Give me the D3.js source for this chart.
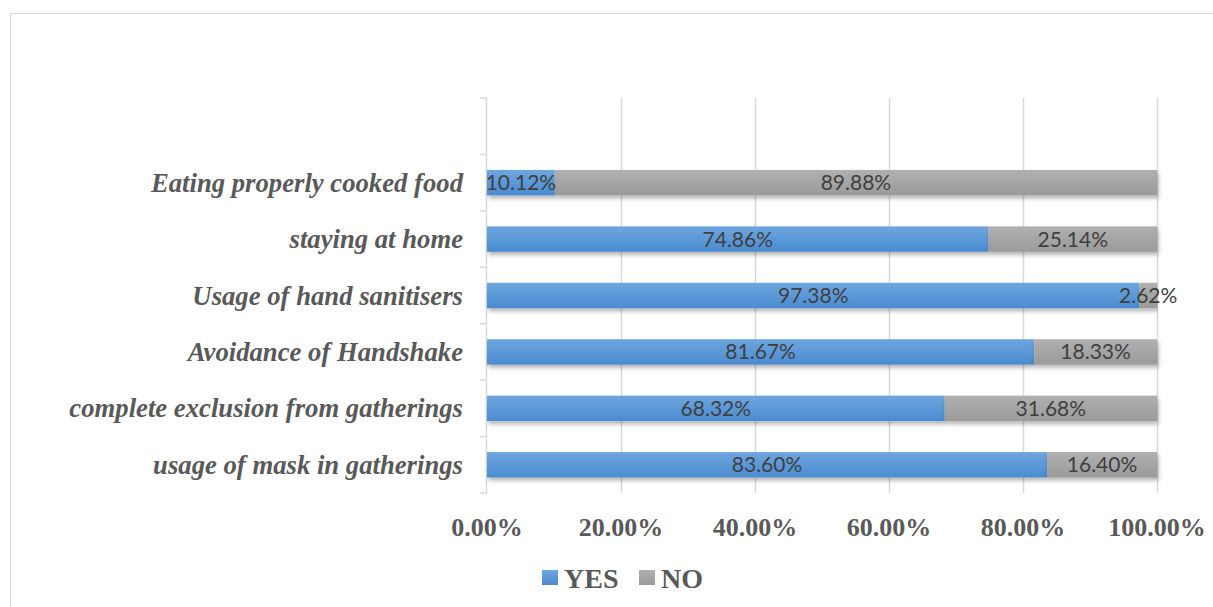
<!DOCTYPE html>
<html>
<head>
<meta charset="utf-8">
<script src="https://cdn.jsdelivr.net/npm/d3@7"></script>
<style>
  body { margin: 0; background: #fff; }
</style>
</head>
<body>
<div id="wrapper"></div>
<script>
// categories listed top to bottom, first row is an empty slot like in the original
const categories = [
    "",
    "Eating properly cooked food",
    "staying at home",
    "Usage of hand sanitisers",
    "Avoidance of Handshake",
    "complete exclusion from gatherings",
    "usage of mask in gatherings"
]
const yesValues = [null, 10.12, 74.86, 97.38, 81.67, 68.32, 83.60]
const noValues = [null, 89.88, 25.14, 2.62, 18.33, 31.68, 16.40]
const xTicks = [0, 20, 40, 60, 80, 100]
const seriesNames = ["YES", "NO"]

const width = 1213
const height = 607
let dimensions = {
    width,
    height,
    margin: { top: 98, right: 56, bottom: 114, left: 487 }
}
dimensions.boundedWidth = dimensions.width - dimensions.margin.left - dimensions.margin.right
dimensions.boundedHeight = dimensions.height - dimensions.margin.top - dimensions.margin.bottom

const svg = d3.select("#wrapper")
    .append("svg")
        .attr("width", width)
        .attr("height", height)

const defs = svg.append("defs")
const gradBlue = defs.append("linearGradient").attr("id", "gBlue")
    .attr("x1", 0).attr("y1", 0).attr("x2", 0).attr("y2", 1)
gradBlue.append("stop").attr("offset", "0%").attr("stop-color", "#6ea6de")
gradBlue.append("stop").attr("offset", "100%").attr("stop-color", "#4a8bd0")
const gradGray = defs.append("linearGradient").attr("id", "gGray")
    .attr("x1", 0).attr("y1", 0).attr("x2", 0).attr("y2", 1)
gradGray.append("stop").attr("offset", "0%").attr("stop-color", "#b0b0b0")
gradGray.append("stop").attr("offset", "100%").attr("stop-color", "#9a9a9a")
const shadow = defs.append("filter").attr("id", "shadow")
    .attr("x", "-5%").attr("y", "-30%").attr("width", "110%").attr("height", "190%")
shadow.append("feDropShadow")
    .attr("dx", 1.5).attr("dy", 3).attr("stdDeviation", 2)
    .attr("flood-color", "#000").attr("flood-opacity", 0.3)

// outer chart border
svg.append("rect")
    .attr("x", 10.5).attr("y", 13.5)
    .attr("width", 1220).attr("height", 620)
    .attr("fill", "none")
    .attr("stroke", "#d9d9d9")

const bounds = svg.append("g")
    .attr("transform", `translate(${dimensions.margin.left}, ${dimensions.margin.top})`)

const xScale = d3.scaleLinear()
    .domain([0, 100])
    .range([0, dimensions.boundedWidth])

const yScale = d3.scaleBand()
    .domain(categories.map((d, i) => i))
    .range([0, dimensions.boundedHeight])
    .paddingInner(0.55)
    .paddingOuter(0.275)

// gridlines
bounds.append("g")
    .selectAll("line")
    .data(xTicks.slice(1))
    .join("line")
        .attr("x1", d => Math.round(xScale(d)) + 0.5)
        .attr("x2", d => Math.round(xScale(d)) + 0.5)
        .attr("y1", 0)
        .attr("y2", dimensions.boundedHeight)
        .attr("stroke", "#d9d9d9")
        .attr("stroke-width", 1.5)

// y axis line with ticks between categories
const step = yScale.step()
bounds.append("line")
    .attr("x1", -0.5).attr("x2", -0.5)
    .attr("y1", 0).attr("y2", dimensions.boundedHeight)
    .attr("stroke", "#d9d9d9").attr("stroke-width", 1.5)
bounds.append("g")
    .selectAll("line")
    .data(d3.range(categories.length + 1))
    .join("line")
        .attr("x1", -7).attr("x2", -0.5)
        .attr("y1", d => d * step)
        .attr("y2", d => d * step)
        .attr("stroke", "#d9d9d9").attr("stroke-width", 1.5)

const rows = categories.map((c, i) => ({ i, c, yes: yesValues[i], no: noValues[i] }))
    .filter(d => d.yes !== null)

const barGroups = bounds.append("g")
    .selectAll("g")
    .data(rows)
    .join("g")

barGroups.append("rect")
    .attr("x", xScale(0))
    .attr("y", d => yScale(d.i))
    .attr("width", d => xScale(d.yes) - xScale(0))
    .attr("height", yScale.bandwidth())
    .attr("fill", "url(#gBlue)")
    .attr("filter", "url(#shadow)")

barGroups.append("rect")
    .attr("x", d => xScale(d.yes))
    .attr("y", d => yScale(d.i))
    .attr("width", d => xScale(d.yes + d.no) - xScale(d.yes))
    .attr("height", yScale.bandwidth())
    .attr("fill", "url(#gGray)")
    .attr("filter", "url(#shadow)")

const labelFont = "Lato, 'Noto Sans', sans-serif"
barGroups.append("text")
    .attr("x", d => xScale(d.yes / 2))
    .attr("y", d => yScale(d.i) + yScale.bandwidth() / 2)
    .attr("dy", "0.36em")
    .attr("text-anchor", "middle")
    .style("font-family", labelFont)
    .style("font-size", "21px")
    .attr("fill", "#404040")
    .text(d => d.yes.toFixed(2) + "%")

barGroups.append("text")
    .attr("x", d => xScale(d.yes + d.no / 2))
    .attr("y", d => yScale(d.i) + yScale.bandwidth() / 2)
    .attr("dy", "0.36em")
    .attr("text-anchor", "middle")
    .style("font-family", labelFont)
    .style("font-size", "21px")
    .attr("fill", "#404040")
    .text(d => d.no.toFixed(2) + "%")

// category labels
bounds.append("g")
    .selectAll("text")
    .data(rows)
    .join("text")
        .attr("x", -24)
        .attr("y", d => yScale(d.i) + yScale.bandwidth() / 2)
        .attr("dy", "0.34em")
        .attr("text-anchor", "end")
        .style("font-family", "'Liberation Serif', 'Times New Roman', serif")
        .style("font-size", "26.7px")
        .style("font-weight", "bold")
        .style("font-style", "italic")
        .attr("fill", "#595959")
        .text(d => d.c)

// x axis tick labels
bounds.append("g")
    .selectAll("text")
    .data(xTicks)
    .join("text")
        .attr("x", d => xScale(d))
        .attr("y", dimensions.boundedHeight + 43)
        .attr("text-anchor", "middle")
        .style("font-family", "'Liberation Serif', 'Times New Roman', serif")
        .style("font-size", "26px")
        .style("font-weight", "bold")
        .attr("fill", "#595959")
        .text(d => d.toFixed(2) + "%")

// legend
const legendColors = ["url(#gBlue)", "url(#gGray)"]
const legend = svg.append("g")
    .attr("transform", "translate(542, 578)")
const legendX = [0, 97]
const items = legend.selectAll("g")
    .data(seriesNames)
    .join("g")
        .attr("transform", (d, i) => `translate(${legendX[i]}, 0)`)
items.append("rect")
    .attr("x", 0).attr("y", -8)
    .attr("width", 16).attr("height", 15)
    .attr("fill", (d, i) => legendColors[i])
items.append("text")
    .attr("x", 22)
    .attr("y", 0)
    .attr("dy", "0.36em")
    .style("font-family", "'Liberation Serif', 'Times New Roman', serif")
    .style("font-size", "28px")
    .style("font-weight", "bold")
    .attr("fill", "#595959")
    .text(d => d)
</script>
</body>
</html>
